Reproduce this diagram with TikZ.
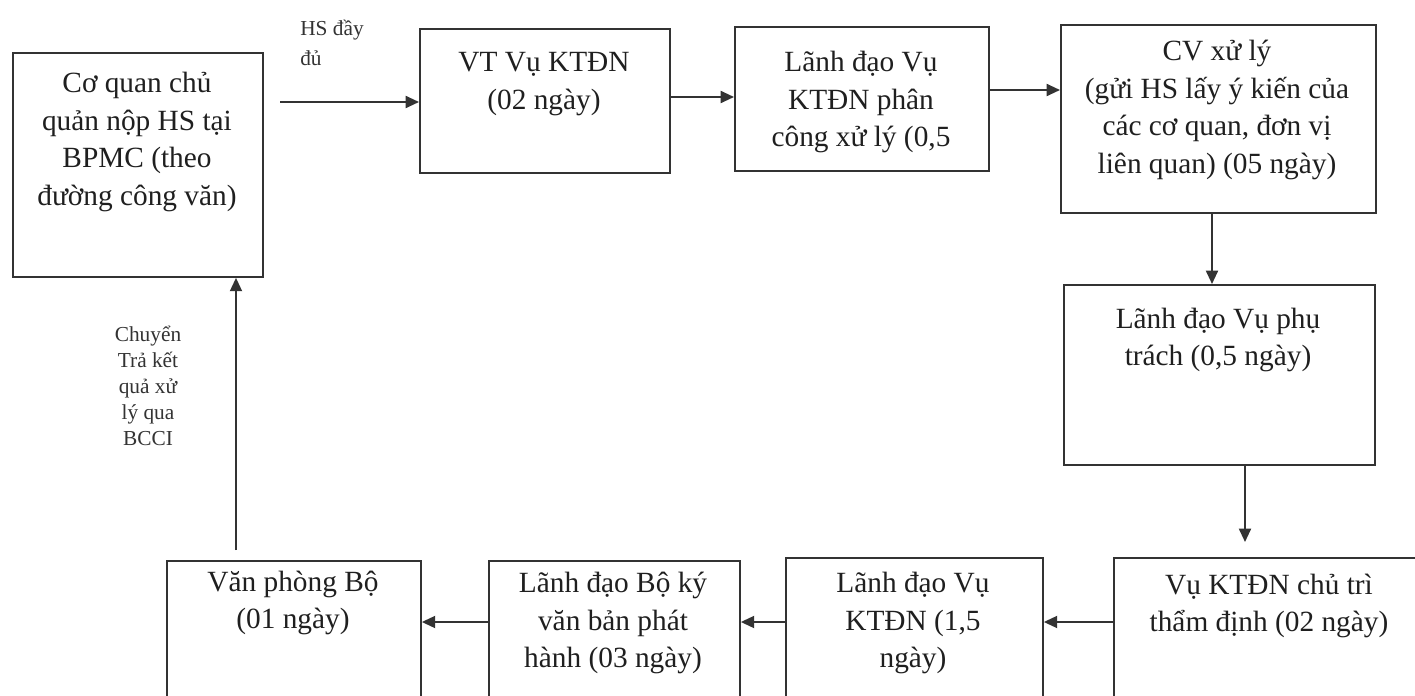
\documentclass[tikz,border=0pt]{standalone}
\usepackage{fontspec}
\setmainfont{Liberation Serif}
\usetikzlibrary{arrows.meta}
\begin{document}
\begin{tikzpicture}[x=0.75pt,y=-0.75pt,
  box/.style={draw=black!80, line width=1.4pt, anchor=north west, inner sep=0pt},
  txt/.style={align=center, inner sep=0pt, text=black!88, font=\fontsize{22}{28.2}\selectfont},
  lbl/.style={inner sep=0pt, text=black!80, font=\fontsize{16}{19.5}\selectfont},
  arr/.style={draw=black!80, line width=1.4pt, -{Triangle[length=10pt,width=9pt]}}]
\useasboundingbox (0,0) rectangle (1415,696);
\clip (0,0) rectangle (1415,696);
\fill[white] (0,0) rectangle (1415,696);

% boxes
\node[box, minimum width=187.5pt, minimum height=168pt] (A) at (12,52) {};
\node[box, minimum width=187.5pt, minimum height=108pt] (VT) at (419,28) {};
\node[box, minimum width=190.5pt, minimum height=108pt] (LD1) at (734,26) {};
\node[box, minimum width=236.25pt, minimum height=141pt] (CV) at (1060,24) {};
\node[box, minimum width=233.25pt, minimum height=135pt] (LDVP) at (1063,284) {};
\node[box, minimum width=237.75pt, minimum height=122.25pt] (KTDN) at (1113,557) {};
\node[box, minimum width=192.75pt, minimum height=122.25pt] (LDV) at (785,557) {};
\node[box, minimum width=188.25pt, minimum height=120pt] (LDB) at (488,560) {};
\node[box, minimum width=190.5pt, minimum height=120pt] (VPB) at (166,560) {};

% texts
\node[txt] (At) at (137,142) {Cơ quan chủ\\quản nộp HS tại\\BPMC (theo\\đường công văn)};
\node[txt] (VTt) at (544,84) {VT Vụ KTĐN\\(02 ngày)};
\node[txt] (LD1t) at (861,102) {Lãnh đạo Vụ\\KTĐN phân\\công xử lý (0,5};
\node[txt] (CVt) at (1217,110) {CV xử lý\\(gửi HS lấy ý kiến của\\các cơ quan, đơn vị\\liên quan) (05 ngày)};
\node[txt] (LDVPt) at (1218,340) {Lãnh đạo Vụ phụ\\trách (0,5 ngày)};
\node[txt] (KTDNt) at (1269,606) {Vụ KTĐN chủ trì\\thẩm định (02 ngày)};
\node[txt] (LDVt) at (913,623) {Lãnh đạo Vụ\\KTĐN (1,5\\ngày)};
\node[txt] (LDBt) at (613,623) {Lãnh đạo Bộ ký\\văn bản phát\\hành (03 ngày)};
\node[txt] (VPBt) at (293,603) {Văn phòng Bộ\\(01 ngày)};

% edge labels
\node[lbl, align=left, anchor=west, font=\fontsize{16}{22.5}\selectfont] (hsl) at (300,43) {HS đầy\\đủ};
\node[lbl, align=center] (bccl) at (148,386) {Chuyển\\Trả kết\\quả xử\\lý qua\\BCCI};

% helper coordinates
\coordinate (hs) at (280,102);
\coordinate (y97) at (0,97);
\coordinate (y90) at (0,90);
\coordinate (x1212) at (1212,0);
\coordinate (k) at (1245,542);
\coordinate (y622) at (0,622);
\coordinate (u) at (236,550);

% connectors
\draw[arr] (hs) -- (hs -| VT.west);
\draw[arr] (VT.east |- y97) -- (LD1.west |- y97);
\draw[arr] (LD1.east |- y90) -- (CV.west |- y90);
\draw[arr] (CV.south -| x1212) -- (LDVP.north -| x1212);
\draw[arr] (LDVP.south -| k) -- (k);
\draw[arr] (KTDN.west |- y622) -- (LDV.east |- y622);
\draw[arr] (LDV.west |- y622) -- (LDB.east |- y622);
\draw[arr] (LDB.west |- y622) -- (VPB.east |- y622);
\draw[arr] (u) -- (u |- A.south);
\end{tikzpicture}
\end{document}
